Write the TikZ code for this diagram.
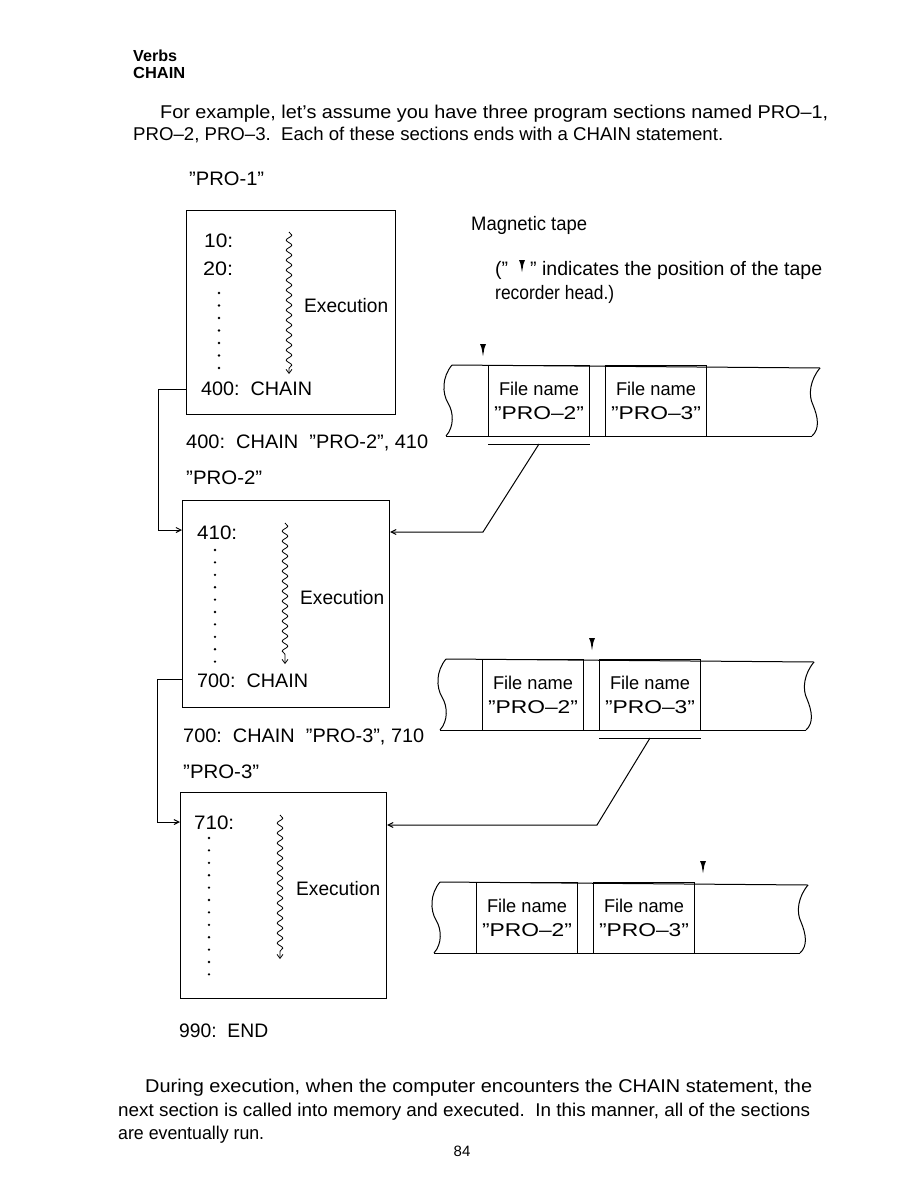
\documentclass[tikz,border=0pt]{standalone}
\usepackage{fontspec}
\setmainfont{Liberation Sans}
\usepackage{graphicx}
\usetikzlibrary{arrows.meta,decorations.pathmorphing,calc}

\newcommand\fitw[2]{\resizebox{#1pt}{\height}{#2}}

% tape: #1 = x of first cell, #2 = top y, #3 = name prefix
\newcommand\tape[3]{%
\begin{scope}[shift={(#1,#2)}]
  \draw[tapeln] (-36,0) .. controls (-46,12) and (-46,28) .. (-40,38)
                 .. controls (-34,48) and (-34,62) .. (-42,71);
  \draw[tapeln] (-36,0) -- (332,3);
  \draw[tapeln] (-42,71) -- (324,71);
  \draw[tapeln] (332,3) .. controls (322,15) and (320,30) .. (325,40)
                 .. controls (330,52) and (332,64) .. (324,71);
  \node[cell] (#3c1) at (0,0) {};
  \node[cell] (#3c2) at (117,0) {};
  \node[celltxt] (#3f1) at (#3c1.center) {\fitw{80}{File name}\\\fitw{90}{”PRO–2”}};
  \node[celltxt] (#3f2) at (#3c2.center) {\fitw{80}{File name}\\\fitw{90}{”PRO–3”}};
\end{scope}}

\newcommand\headmark[1]{%
  \fill (#1) ++(-3,-7) -- ++(6,0) -- ++(-1.6,4) -- ++(-1.4,8) -- ++(-1.4,-8) -- cycle;}

\begin{document}
\begin{tikzpicture}[x=1pt,y=-1pt,
  t/.style={anchor=base west, inner sep=0pt, font=\fontsize{19.5}{22}\selectfont},
  p/.style={anchor=base west, inner sep=0pt, font=\fontsize{18.5}{22}\selectfont},
  hd/.style={anchor=base west, inner sep=0pt, font=\fontsize{16}{18}\selectfont\bfseries},
  prog/.style={draw, line width=1.1pt, anchor=north west, inner sep=0pt},
  cell/.style={draw, line width=1pt, anchor=north west, inner sep=0pt,
               minimum width=101pt, minimum height=71pt},
  celltxt/.style={align=center, inner sep=0pt, font=\fontsize{18.5}{24}\selectfont},
  tapeln/.style={line width=1pt},
  link/.style={line width=1pt, -{Straight Barb[length=5pt,width=5pt]}},
  wire/.style={line width=1pt},
  exec/.style={line width=0.8pt, decorate,
     decoration={snake, amplitude=2.8pt, segment length=10pt, post length=5pt},
     -{Straight Barb[length=4pt,width=6pt]}},
]
\useasboundingbox (0,0) rectangle (918,1188);
\fill[white] (0,0) rectangle (918,1188);

% header
\node[hd] (hv) at (133,62) {\fitw{44}{Verbs}};
\node[hd] (hc) at (133,79) {\fitw{52}{CHAIN}};
\node[p] (l1) at (160,118) {\fitw{668}{For example, let's assume you have three program sections named PRO–1,}};
\node[p] (l2) at (133,141) {\fitw{590}{PRO–2, PRO–3.\ \ Each of these sections ends with a CHAIN statement.}};

\node[t] (n1) at (189,185) {\fitw{75}{”PRO-1”}};

% program boxes
\node[prog, minimum width=209pt, minimum height=204pt] (b1) at (186,210) {};
\node[prog, minimum width=207pt, minimum height=207pt] (b2) at (182,500) {};
\node[prog, minimum width=206pt, minimum height=206pt] (b3) at (180,792) {};

% box 1 contents
\node[t] (s10) at (204,247) {\fitw{29}{10:}};
\node[t] (s20) at (203,275) {\fitw{30}{20:}};
\foreach \i in {0,...,6} \fill (219,293+\i*12.5) circle (1.3);
\draw[exec] (289,232) -- (289,374);
\node[t] (e1) at (304,312) {\fitw{84}{Execution}};
\node[t] (s400) at (201,395) {\fitw{111}{400:\ \ CHAIN}};
\node[t] (c400) at (186,448) {\fitw{242}{400:\ \ CHAIN\ \ ”PRO-2”, 410}};
\node[t] (n2) at (186,484) {\fitw{76}{”PRO-2”}};

% box 2 contents
\node[t] (s410) at (197,539) {\fitw{40}{410:}};
\foreach \i in {0,...,9} \fill (215,550+\i*12.4) circle (1.3);
\draw[exec] (285,523) -- (285,664);
\node[t] (e2) at (300,604) {\fitw{84}{Execution}};
\node[t] (s700) at (197,687) {\fitw{111}{700:\ \ CHAIN}};
\node[t] (c700) at (183,742) {\fitw{241}{700:\ \ CHAIN\ \ ”PRO-3”, 710}};
\node[t] (n3) at (183,778) {\fitw{76}{”PRO-3”}};

% box 3 contents
\node[t] (s710) at (194,829) {\fitw{40}{710:}};
\foreach \i in {0,...,11} \fill (209,838+\i*12.4) circle (1.3);
\draw[exec] (280,815) -- (280,959);
\node[t] (e3) at (296,895) {\fitw{84}{Execution}};
\node[t] (s990) at (179,1037) {\fitw{89}{990:\ \ END}};

% left connectors
\draw[link] ([yshift=-179pt]b1.north west) -- ++(-28,0) |- ([yshift=-30pt]b2.north west);
\draw[link] ([yshift=-179pt]b2.north west) -- ++(-25,0) |- ([yshift=-30pt]b3.north west);

% magnetic tape legend
\node[t] (mt) at (471,230) {\fitw{116}{Magnetic tape}};
\node[t] (lg1) at (495,275) {(”};
\coordinate (lgm) at (522,267);
\headmark{lgm}
\node[t] (lg2) at (530,275) {\fitw{292}{” indicates the position of the tape}};
\node[t] (lg3) at (495,299) {\fitw{119}{recorder head.)}};

% tapes
\tape{488}{365}{ta}
\tape{482}{659}{tb}
\tape{476}{882}{tc}

\coordinate (h1) at (483,351);
\coordinate (h2) at (592,645);
\coordinate (h3) at (703,868);
\headmark{h1}
\headmark{h2}
\headmark{h3}

% tape to box connectors
\draw[wire] ([yshift=-7pt]tac1.south west) -- ([yshift=-7pt]tac1.south east);
\coordinate (k1) at (483,532);
\draw[link] ([yshift=-7pt]tac1.south) -- (k1) -- ([yshift=-32pt]b2.north east);

\draw[wire] ([yshift=-7pt]tbc2.south west) -- ([yshift=-7pt]tbc2.south east);
\coordinate (k2) at (597,825);
\draw[link] ([yshift=-7pt]tbc2.south) -- (k2) -- ([yshift=-33pt]b3.north east);

% bottom paragraph
\node[p] (m1) at (145,1092) {\fitw{667}{During execution, when the computer encounters the CHAIN statement, the}};
\node[p] (m2) at (118,1116) {\fitw{692}{next section is called into memory and executed.\ \ In this manner, all of the sections}};
\node[p] (m3) at (118,1139) {\fitw{146}{are eventually run.}};
\node[anchor=base, inner sep=0pt, font=\fontsize{15}{18}\selectfont] (pg) at (462,1156) {84};
\end{tikzpicture}
\end{document}
